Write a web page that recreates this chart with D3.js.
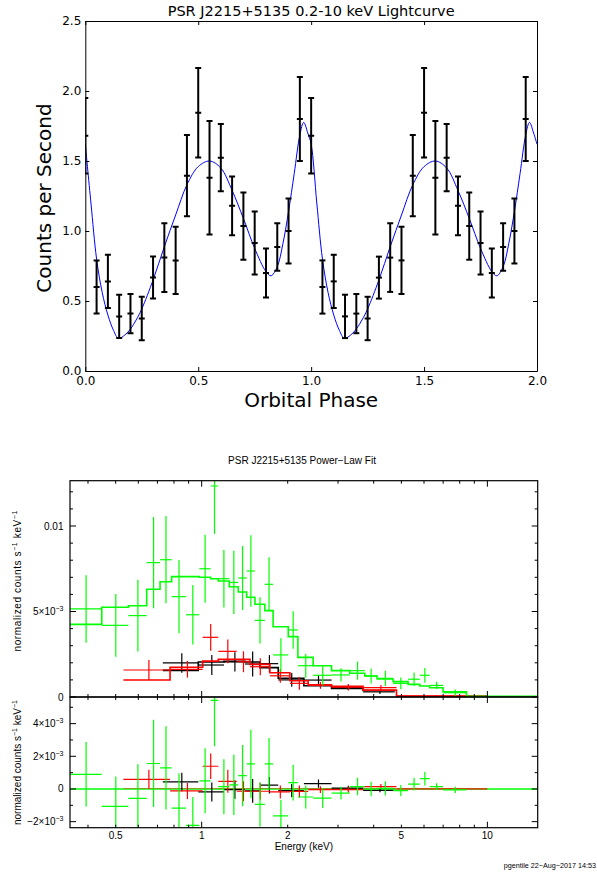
<!DOCTYPE html>
<html>
<head>
<meta charset="utf-8">
<script src="https://cdn.jsdelivr.net/npm/d3@7"></script>
<style>
  html, body { margin: 0; padding: 0; background: #fff; }
  svg { display: block; }
</style>
</head>
<body>
<div id="chart"></div>
<script>
'use strict';

// ---------- light curve data ----------
const phaseBins = [0.00, 0.05, 0.10, 0.15, 0.20, 0.25, 0.30, 0.35, 0.40, 0.45,
                   0.50, 0.55, 0.60, 0.65, 0.70, 0.75, 0.80, 0.85, 0.90, 0.95];
const countRate = [1.68, 0.60, 0.64, 0.39, 0.41, 0.375, 0.667, 0.81, 0.79, 1.395,
                   1.845, 1.38, 1.524, 1.18, 1.035, 0.914, 0.70, 0.886, 1.00, 1.80];
const countErr = [0.27, 0.19, 0.19, 0.155, 0.14, 0.155, 0.15, 0.245, 0.24, 0.29,
                  0.32, 0.405, 0.24, 0.21, 0.24, 0.225, 0.175, 0.17, 0.232, 0.30];
const cycles = [0, 1];

// fitted model curve
const modelPhase = [0.000, 0.025, 0.050, 0.075, 0.100, 0.125, 0.147, 0.175, 0.200, 0.225,
                    0.250, 0.300, 0.350, 0.400, 0.450, 0.500, 0.550, 0.600, 0.650, 0.700,
                    0.750, 0.800, 0.822, 0.850, 0.875, 0.900, 0.925, 0.950, 0.967, 0.985, 1.000];
const modelRate = [1.62, 1.20, 0.80, 0.56, 0.40, 0.29, 0.233, 0.257, 0.30, 0.364,
                   0.443, 0.65, 0.888, 1.114, 1.33, 1.46, 1.50, 1.45, 1.29, 1.09,
                   0.876, 0.71, 0.68, 0.745, 0.91, 1.14, 1.41, 1.686, 1.776, 1.70, 1.62];

const phaseTicks = [0, 0.5, 1, 1.5, 2];
const rateTicks = [0, 0.5, 1, 1.5, 2, 2.5];

// ---------- spectrum data (units of 1e-3 counts/s/keV) ----------
const blackEdges = [0.731, 0.973, 1.197, 1.417, 1.599, 1.853, 2.279, 2.848, 3.673, 4.740];
const blackRate  = [1.99, 1.87, 2.05, 1.93, 1.95, 1.00, 0.99, 0.55, 0.30];
const blackErr   = [0.57, 0.58, 0.56, 0.73, 0.50, 0.40, 0.25, 0.15, 0.12];
const blackModel = [1.56, 2.05, 2.09, 2.05, 1.72, 1.10, 0.66, 0.50, 0.38];

const redEdges = [0.532, 0.775, 1.008, 1.143, 1.326, 1.475, 1.733, 2.036, 2.359, 2.848, 3.673, 4.806, 10.0];
const redRate  = [1.58, 1.62, 3.49, 2.67, 2.06, 1.77, 1.24, 0.80, 0.68, 0.58, 0.55, 0.05];
const redErr   = [0.58, 0.49, 0.78, 0.70, 0.61, 0.50, 0.40, 0.37, 0.20, 0.18, 0.15, 0.04];
const redModel = [0.99, 1.74, 2.10, 2.20, 2.20, 1.91, 1.42, 0.95, 0.72, 0.62, 0.40, 0.05];

const greenEdges = [0.341, 0.447, 0.554, 0.642, 0.715, 0.785, 0.881, 0.981, 1.075, 1.143,
                    1.249, 1.343, 1.437, 1.536, 1.664, 1.778, 2.009, 2.171, 2.456, 2.848,
                    3.300, 3.724, 4.111, 4.677, 5.278, 5.800, 6.284, 6.996, 8.446, 20.0];
const greenRate  = [5.15, 4.19, 4.76, 7.86, 8.03, 5.87, 4.81, 7.50, 12.34, 6.92,
                    6.70, 6.96, 7.37, 4.48, 6.59, 2.46, 3.92, 1.83, 1.27, 1.29,
                    1.54, 1.23, 1.09, 0.80, 1.04, 1.27, 0.68, 0.25];
const greenErr   = [1.97, 1.83, 2.10, 2.67, 2.55, 2.14, 1.74, 1.99, 2.80, 1.68,
                    1.85, 1.87, 2.09, 1.35, 1.58, 0.98, 1.10, 0.70, 0.60, 0.39,
                    0.53, 0.44, 0.44, 0.34, 0.39, 0.42, 0.21, 0.19];
const greenModel = [4.25, 5.25, 5.34, 6.30, 6.74, 7.04, 7.04, 7.00, 6.92, 6.78,
                    6.45, 6.14, 5.83, 5.42, 5.05, 4.11, 3.53, 2.32, 1.83, 1.54,
                    1.39, 1.23, 1.05, 0.90, 0.74, 0.64, 0.54, 0.31, 0.04];

const energyMinor = [0.4, 0.5, 0.6, 0.7, 0.8, 0.9, 2, 3, 4, 5, 6, 7, 8, 9];
const energyMajor = [1, 10];
const energyLabels = [0.5, 1, 2, 5, 10];
const fluxMinor = [1, 2, 3, 4, 6, 7, 8, 9, 11, 12];
const fluxMajor = [0, 5, 10];
const fluxLabels = [['0'], ['5×10', '−3'], ['0.01']];
const resMinor = [-1, 1, 3, 5];
const resMajor = [-2, 0, 2, 4];
const resLabels = [['−2×10', '−3'], ['0'], ['2×10', '−3'], ['4×10', '−3']];


const width = 597, height = 873;
const svg = d3.select('#chart').append('svg')
  .attr('width', width)
  .attr('height', height);

// =============== light curve ===============
const lc = {left: 85.3, right: 537, top: 21, bottom: 371};
const xPhase = d3.scaleLinear().domain([0, 2]).range([lc.left, lc.right]);
const yRate = d3.scaleLinear().domain([0, 2.5]).range([lc.bottom, lc.top]);

svg.append('clipPath').attr('id', 'lc-clip')
  .append('rect')
    .attr('x', lc.left).attr('y', lc.top)
    .attr('width', lc.right - lc.left).attr('height', lc.bottom - lc.top);

const lcg = svg.append('g').style('font-family', "'DejaVu Sans', sans-serif");

const curvePts = [];
cycles.forEach((c) => {
  modelPhase.forEach((p, i) => {
    if (c > 0 && i === 0) return;
    curvePts.push([p + c, modelRate[i]]);
  });
});

lcg.append('path')
  .datum(curvePts)
  .attr('clip-path', 'url(#lc-clip)')
  .attr('fill', 'none')
  .attr('stroke', '#0000ff')
  .attr('stroke-width', 1)
  .attr('d', d3.line()
    .x((d) => xPhase(d[0]))
    .y((d) => yRate(d[1]))
    .curve(d3.curveCatmullRom.alpha(0.5)));

const points = [];
cycles.forEach((c) => {
  phaseBins.forEach((p, i) => points.push({x: p + c, y: countRate[i], e: countErr[i]}));
});

const bars = lcg.append('g')
  .attr('clip-path', 'url(#lc-clip)')
  .attr('stroke', '#000')
  .attr('stroke-width', 2)
  .selectAll('g')
  .data(points)
  .join('g');

const cap = 3;
bars.append('line')
  .attr('x1', (d) => xPhase(d.x)).attr('x2', (d) => xPhase(d.x))
  .attr('y1', (d) => yRate(d.y - d.e)).attr('y2', (d) => yRate(d.y + d.e));
[-1, 0, 1].forEach((k) => {
  bars.append('line')
    .attr('x1', (d) => xPhase(d.x) - cap).attr('x2', (d) => xPhase(d.x) + cap)
    .attr('y1', (d) => yRate(d.y + k * d.e)).attr('y2', (d) => yRate(d.y + k * d.e));
});

function styleAxis(g, size) {
  g.attr('font-family', null).attr('font-size', null);
  g.selectAll('path.domain').attr('stroke', '#000').attr('stroke-width', 1);
  g.selectAll('.tick line').attr('stroke', '#000').attr('stroke-width', 1);
  g.selectAll('.tick text').attr('fill', '#000').style('font-size', size + 'px');
}

lcg.append('g')
  .attr('transform', `translate(${lc.left},0)`)
  .call(d3.axisLeft(yRate).tickValues(rateTicks).tickFormat(d3.format('.1f'))
    .tickSizeInner(-4).tickSizeOuter(0).tickPadding(4))
  .call((g) => styleAxis(g, 12));
lcg.append('g')
  .attr('transform', `translate(${lc.right},0)`)
  .call(d3.axisRight(yRate).tickValues(rateTicks).tickFormat('')
    .tickSizeInner(-4).tickSizeOuter(0))
  .call((g) => styleAxis(g, 12));
lcg.append('g')
  .attr('transform', `translate(0,${lc.bottom})`)
  .call(d3.axisBottom(xPhase).tickValues(phaseTicks).tickFormat(d3.format('.1f'))
    .tickSizeInner(-4).tickSizeOuter(0).tickPadding(5.5))
  .call((g) => styleAxis(g, 12));
lcg.append('g')
  .attr('transform', `translate(0,${lc.top})`)
  .call(d3.axisTop(xPhase).tickValues(phaseTicks).tickFormat('')
    .tickSizeInner(-4).tickSizeOuter(0))
  .call((g) => styleAxis(g, 12));

lcg.append('text')
  .attr('x', (lc.left + lc.right) / 2).attr('y', 16)
  .attr('text-anchor', 'middle')
  .style('font-size', '14.5px')
  .text('PSR J2215+5135 0.2-10 keV Lightcurve');

lcg.append('text')
  .attr('x', (lc.left + lc.right) / 2).attr('y', 407)
  .attr('text-anchor', 'middle')
  .style('font-size', '20px')
  .text('Orbital Phase');

lcg.append('text')
  .attr('transform', 'translate(51,198) rotate(-90)')
  .attr('text-anchor', 'middle')
  .style('font-size', '20px')
  .text('Counts per Second');

// =============== spectrum ===============
const sp = {left: 70, right: 537.7, top: 480.7, mid: 697, bottom: 827.7};
const xE = d3.scaleLog().domain([0.346, 15]).range([sp.left, sp.right]);
const yFlux = d3.scaleLinear().domain([0, 12.65]).range([sp.mid, sp.top]);
const yRes = d3.scaleLinear().domain([-2.37, 5.63]).range([sp.bottom, sp.mid]);

const spectra = [
  {color: '#000000', edges: blackEdges, rate: blackRate, err: blackErr, model: blackModel},
  {color: '#ff0000', edges: redEdges, rate: redRate, err: redErr, model: redModel},
  {color: '#00ff00', edges: greenEdges, rate: greenRate, err: greenErr, model: greenModel},
];

const spg = svg.append('g').style('font-family', "'Liberation Sans', Arial, sans-serif");

spg.append('clipPath').attr('id', 'up-clip')
  .append('rect')
    .attr('x', sp.left).attr('y', sp.top)
    .attr('width', sp.right - sp.left).attr('height', sp.mid - sp.top);
spg.append('clipPath').attr('id', 'lo-clip')
  .append('rect')
    .attr('x', sp.left).attr('y', sp.mid)
    .attr('width', sp.right - sp.left).attr('height', sp.bottom - sp.mid);

const upper = spg.append('g').attr('clip-path', 'url(#up-clip)');
const lower = spg.append('g').attr('clip-path', 'url(#lo-clip)');

// zero lines of the residual panel
lower.append('line')
  .attr('x1', sp.left).attr('x2', sp.right)
  .attr('y1', yRes(0)).attr('y2', yRes(0))
  .attr('stroke', '#00ff00').attr('stroke-width', 1.5);
lower.append('line')
  .attr('x1', xE(redEdges[0])).attr('x2', xE(redEdges[redEdges.length - 1]))
  .attr('y1', yRes(0) - 0.5).attr('y2', yRes(0) - 0.5)
  .attr('stroke', '#ff0000').attr('stroke-width', 1).attr('stroke-opacity', 0.4);

function crossData(s, residual) {
  return s.rate.map((r, i) => {
    const lo = s.edges[i], hi = s.edges[i + 1];
    return {lo: lo, hi: hi, c: (lo + hi) / 2,
            y: residual ? r - s.model[i] : r, e: s.err[i]};
  });
}

function drawCrosses(g, s, yScale, residual) {
  const cg = g.append('g').attr('stroke', s.color).attr('stroke-width', 1.2);
  const data = crossData(s, residual);
  cg.selectAll('line.h').data(data).join('line')
    .attr('class', 'h')
    .attr('x1', (d) => xE(d.lo)).attr('x2', (d) => xE(d.hi))
    .attr('y1', (d) => yScale(d.y)).attr('y2', (d) => yScale(d.y));
  cg.selectAll('line.v').data(data).join('line')
    .attr('class', 'v')
    .attr('x1', (d) => xE(d.c)).attr('x2', (d) => xE(d.c))
    .attr('y1', (d) => yScale(d.y - d.e)).attr('y2', (d) => yScale(d.y + d.e));
}

spectra.forEach((s) => {
  const steps = s.model.map((m, i) => [s.edges[i], m]);
  steps.push([s.edges[s.model.length], s.model[s.model.length - 1]]);
  drawCrosses(upper, s, yFlux, false);
  upper.append('path')
    .datum(steps)
    .attr('fill', 'none')
    .attr('stroke', s.color)
    .attr('stroke-width', 1.6)
    .attr('d', d3.line()
      .x((d) => xE(d[0]))
      .y((d) => yFlux(d[1]))
      .curve(d3.curveStepAfter));
  drawCrosses(lower, s, yRes, true);
});

// frames
[[sp.top, sp.mid], [sp.mid, sp.bottom]].forEach(([t, b]) => {
  spg.append('rect')
    .attr('x', sp.left).attr('y', t)
    .attr('width', sp.right - sp.left).attr('height', b - t)
    .attr('fill', 'none').attr('stroke', '#000').attr('stroke-width', 1.2);
});

// ticks
const minorLen = 3, majorLen = 6;
const tickG = spg.append('g').attr('stroke', '#000').attr('stroke-width', 1);

function xTickMarks(y, up, down) {
  [[energyMinor, minorLen], [energyMajor, majorLen]].forEach(([vals, len]) => {
    tickG.selectAll(null).data(vals).join('line')
      .attr('x1', (d) => xE(d)).attr('x2', (d) => xE(d))
      .attr('y1', y - (up ? len : 0)).attr('y2', y + (down ? len : 0));
  });
}
xTickMarks(sp.top, false, true);
xTickMarks(sp.mid, true, true);
xTickMarks(sp.bottom, true, false);

function yTickMarks(scale, minor, major) {
  [[minor, minorLen], [major, majorLen]].forEach(([vals, len]) => {
    tickG.selectAll(null).data(vals).join('line')
      .attr('x1', sp.left).attr('x2', sp.left + len)
      .attr('y1', (d) => scale(d)).attr('y2', (d) => scale(d));
    tickG.selectAll(null).data(vals).join('line')
      .attr('x1', sp.right - len).attr('x2', sp.right)
      .attr('y1', (d) => scale(d)).attr('y2', (d) => scale(d));
  });
}
yTickMarks(yFlux, fluxMinor, fluxMajor);
yTickMarks(yRes, resMinor, resMajor);

function yLabels(scale, vals, labels) {
  const t = spg.selectAll(null).data(vals).join('text')
    .attr('x', 63.5)
    .attr('y', (d) => scale(d))
    .attr('dy', '0.35em')
    .attr('text-anchor', 'end')
    .style('font-size', '10px')
    .attr('fill', '#000');
  t.append('tspan').text((d, i) => labels[i][0]);
  t.filter((d, i) => labels[i].length > 1)
    .append('tspan')
      .attr('dy', -4)
      .style('font-size', '7px')
      .text((d) => labels[vals.indexOf(d)][1]);
}
yLabels(yFlux, fluxMajor, fluxLabels);
yLabels(yRes, resMajor, resLabels);

spg.selectAll(null).data(energyLabels).join('text')
  .attr('x', (d) => xE(d))
  .attr('y', 839)
  .attr('text-anchor', 'middle')
  .style('font-size', '10px')
  .text((d) => String(d));

spg.append('text')
  .attr('x', (sp.left + sp.right) / 2).attr('y', 849.5)
  .attr('text-anchor', 'middle')
  .style('font-size', '10px')
  .text('Energy (keV)');

spg.append('text')
  .attr('x', 302).attr('y', 463.5)
  .attr('text-anchor', 'middle')
  .style('font-size', '10px')
  .text('PSR J2215+5135 Power−Law Fit');

function unitLabel(cy, len) {
  const t = spg.append('text')
    .attr('transform', `translate(21,${cy}) rotate(-90)`)
    .attr('text-anchor', 'middle')
    .attr('textLength', len)
    .attr('lengthAdjust', 'spacing')
    .style('font-size', '10px');
  t.append('tspan').text('normalized counts s');
  t.append('tspan').attr('dy', -4).style('font-size', '7px').text('−1');
  t.append('tspan').attr('dy', 4).text(' keV');
  t.append('tspan').attr('dy', -4).style('font-size', '7px').text('−1');
  return t;
}
unitLabel(581, 141);
unitLabel(762.5, 125);

spg.append('text')
  .attr('x', 596).attr('y', 868)
  .attr('text-anchor', 'end')
  .style('font-size', '7.2px')
  .text('pgentile 22−Aug−2017 14:53');
</script>
</body>
</html>
